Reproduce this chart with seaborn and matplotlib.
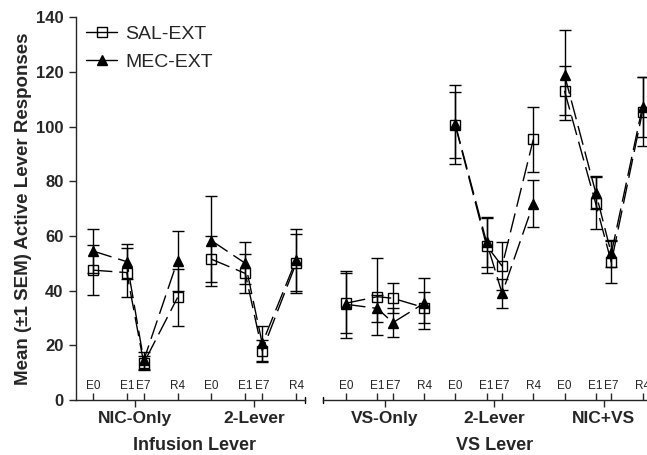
import pandas as pd
import matplotlib
matplotlib.use("Agg")
import matplotlib.pyplot as plt
import seaborn as sns
from matplotlib.lines import Line2D

# Data (means and SEM)
timepoints = ["E0", "E1", "E7", "R4"]
infusion_groups = ["NIC-Only", "2-Lever"]
vs_groups = ["VS-Only", "2-Lever", "NIC+VS"]

sal_infusion_mean = [47.5, 46.6, 13.5, 37.5, 51.5, 46.3, 18.0, 50.0]
sal_infusion_sem = [9.2, 9.0, 2.5, 10.4, 8.5, 7.2, 4.0, 10.7]
mec_infusion_mean = [54.5, 50.6, 14.5, 51.0, 58.3, 50.0, 20.7, 51.2]
mec_infusion_sem = [8.0, 6.5, 3.0, 11.0, 16.5, 7.7, 6.5, 11.5]

sal_vs_mean = [35.4, 37.8, 37.2, 33.8, 100.5, 56.5, 49.0, 95.3, 113.1, 71.9, 50.4, 105.5]
sal_vs_sem = [11.0, 14.0, 5.5, 5.7, 12.0, 10.0, 8.7, 12.0, 9.0, 9.5, 7.7, 12.5]
mec_vs_mean = [35.0, 33.5, 28.3, 35.4, 100.8, 57.8, 39.0, 71.8, 118.9, 75.9, 53.6, 107.3]
mec_vs_sem = [12.3, 5.0, 5.4, 9.3, 14.5, 9.0, 5.3, 8.5, 16.6, 6.0, 5.0, 11.0]

# x layout: E0, E1, E7, R4 offsets inside a group, groups 7 units apart
offsets = [0, 2, 3, 5]
group_step = 7


def make_df(groups, sal_m, sal_s, mec_m, mec_s):
    rows = []
    for g, grp in enumerate(groups):
        for i, tp in enumerate(timepoints):
            k = g * 4 + i
            pos = offsets[i] + g * group_step
            rows.append(dict(group=grp, tp=tp, pos=pos, series="SAL-EXT", mean=sal_m[k], sem=sal_s[k]))
            rows.append(dict(group=grp, tp=tp, pos=pos, series="MEC-EXT", mean=mec_m[k], sem=mec_s[k]))
    return pd.DataFrame(rows)


df_inf = make_df(infusion_groups, sal_infusion_mean, sal_infusion_sem, mec_infusion_mean, mec_infusion_sem)
df_vs = make_df(vs_groups, sal_vs_mean, sal_vs_sem, mec_vs_mean, mec_vs_sem)

sns.set_style("ticks")
plt.rcParams['font.family'] = ['Liberation Sans', 'DejaVu Sans']

fig = plt.figure(figsize=(6.47, 4.55), dpi=100)
ax1 = fig.add_axes([0.1175, 0.1209, 0.3532, 0.8411])
ax2 = fig.add_axes([0.4988, 0.1209, 0.5063, 0.8411])

styles = {
    "SAL-EXT": dict(marker="s", markersize=7.5, markerfacecolor="none"),
    "MEC-EXT": dict(marker="^", markersize=7.5, markerfacecolor="black"),
}
dash = (0, (14, 5))


def draw_panel(ax, df, groups, xlim, label, label_x):
    for grp in groups:
        for series in ["SAL-EXT", "MEC-EXT"]:
            sub = df[(df.group == grp) & (df.series == series)]
            ax.errorbar(sub["pos"], sub["mean"], yerr=sub["sem"], fmt="none",
                        ecolor="black", elinewidth=1, capsize=4, capthick=1)
            sns.lineplot(data=sub, x="pos", y="mean", ax=ax, color="black",
                         linewidth=1, linestyle=dash, errorbar=None,
                         markeredgecolor="black", markeredgewidth=1,
                         **styles[series])

    ax.set_xlim(*xlim)
    ax.set_ylim(0, 140)
    ticks = df.drop_duplicates("pos")
    ax.set_xticks(ticks["pos"])
    ax.set_xticklabels(ticks["tp"])
    centers = [g * group_step + (offsets[0] + offsets[-1]) / 2 for g in range(len(groups))]
    ax.set_xticks(centers, minor=True)
    ax.set_xticklabels(groups, minor=True, fontweight="bold", fontsize=12.5)
    ax.tick_params(axis="x", which="major", direction="in", length=5, width=1,
                   labelsize=8.5, pad=-14.5)
    ax.tick_params(axis="x", which="minor", direction="out", length=5, width=1, pad=3)
    ax.set_xlabel(label, fontweight="bold", fontsize=13)
    ax.xaxis.set_label_coords(label_x, -0.097)
    for side in ["top", "right"]:
        ax.spines[side].set_visible(False)
    ax.spines["bottom"].set_linewidth(1)
    ax.spines["left"].set_linewidth(1)


draw_panel(ax1, df_inf, infusion_groups, (-1, 12.5), "Infusion Lever", 0.5185)
draw_panel(ax2, df_vs, vs_groups, (-1.5, 19.5), "VS Lever", 0.524)

# axis break end marks
ax1.axvline(ax1.get_xlim()[1], ymin=-0.009, ymax=0.009, color="black", lw=1, clip_on=False)
ax2.axvline(ax2.get_xlim()[0], ymin=-0.009, ymax=0.009, color="black", lw=1, clip_on=False)

ax1.set_yticks(range(0, 141, 20))
ax1.tick_params(axis="y", direction="out", length=5, width=1, labelsize=12, pad=4)
for t in ax1.get_yticklabels():
    t.set_fontweight("bold")
ax1.set_ylabel("Mean (\u00b11 SEM) Active Lever Responses", fontweight="bold", fontsize=13.5, labelpad=3)

ax2.spines["left"].set_visible(False)
ax2.tick_params(axis="y", left=False, labelleft=False)
ax2.set_ylabel("")

handles = [
    Line2D([], [], color="black", lw=1, markeredgecolor="black", **styles["SAL-EXT"]),
    Line2D([], [], color="black", lw=1, markeredgecolor="black", **styles["MEC-EXT"]),
]
ax1.legend(handles, ["SAL-EXT", "MEC-EXT"], loc="upper left", bbox_to_anchor=(0.045, 0.98),
           frameon=False, fontsize=14, handlelength=1.6, handletextpad=0.4,
           labelspacing=0.55, borderpad=0, borderaxespad=0)

fig.savefig("out.png", dpi=100)
